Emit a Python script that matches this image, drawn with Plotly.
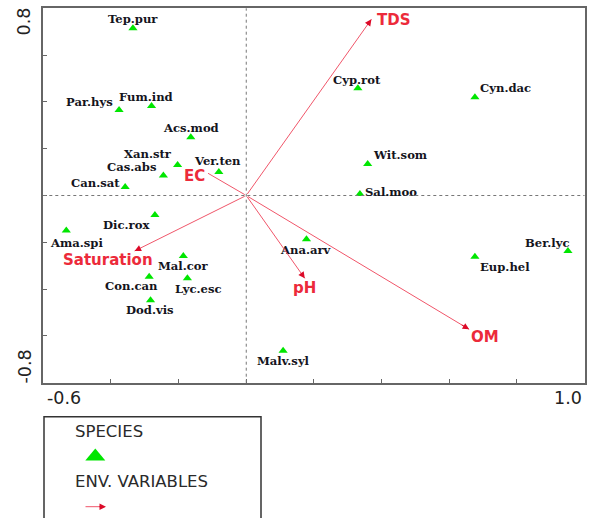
import plotly.graph_objects as go

W, H = 591, 518

# ---- species scores (axis 1, axis 2) ----
species = ["Tep.pur", "Par.hys", "Fum.ind", "Acs.mod", "Xan.str", "Cas.abs",
           "Ver.ten", "Can.sat", "Cyp.rot", "Cyn.dac", "Wit.som", "Sal.moo",
           "Dic.rox", "Ama.spi", "Mal.cor", "Con.can", "Lyc.esc", "Dod.vis",
           "Malv.syl", "Ana.arv", "Eup.hel", "Ber.lyc"]
sp_x = [-0.335, -0.376, -0.280, -0.164, -0.203, -0.245,
        -0.081, -0.358, 0.330, 0.676, 0.359, 0.336,
        -0.270, -0.532, -0.186, -0.287, -0.174, -0.283,
        0.109, 0.178, 0.676, 0.951]
sp_y = [0.715, 0.365, 0.382, 0.249, 0.130, 0.086,
        0.100, 0.036, 0.458, 0.420, 0.135, 0.006,
        -0.083, -0.150, -0.259, -0.347, -0.354, -0.448,
        -0.663, -0.187, -0.262, -0.237]
# label offsets in pixels (dx right, dy down)
sp_dx = [0, -30, -6, 0, -30, -31, -1, -30, -1, 31, 32, 31,
         -29, 10, 0, -18, 11, -1, 0, 0, 30, -21]
sp_dy = [-9, -8, -9, -9, -11, -8, -11, -4, -8, -9, -9, -2,
         10, 12, 10, 9, 11, 10, 10, 11, 10, -8]

# ---- environmental variable vectors ----
env = ["TDS", "EC", "Saturation", "pH", "OM"]
env_x = [0.370, -0.113, -0.330, 0.173, 0.659]
env_y = [0.753, 0.095, -0.237, -0.354, -0.572]
env_dx = [23, -14, -27, 0, 16]
env_dy = [1, 3, 9, 10, 8]

x_range = [-0.6, 1.0]
y_range = [-0.8, 0.8]
x_ticklabels = ["-0.6", "1.0"]
y_ticklabels = ["0.8", "-0.8"]

GREEN = "#00e600"
RED = "#ec2a3a"
LINE_RED = "#f0566a"
HEAD_RED = "#dc0a28"
TEXT = "#141420"
AXIS = "#666666"

# plot area in pixels
L, R, T, B = 43.3, 584.5, 8.3, 382.7


def px(xp):
    return xp / W


def py(yp):
    return 1 - yp / H


fig = go.Figure()

fig.add_trace(go.Scatter(
    x=sp_x, y=sp_y, mode="markers",
    marker=dict(symbol="triangle-up", size=8, color=GREEN, line=dict(width=0)),
    hoverinfo="text", text=species, showlegend=False,
))

annotations = []
for name, x, y, dx, dy in zip(species, sp_x, sp_y, sp_dx, sp_dy):
    annotations.append(dict(
        x=x, y=y, xref="x", yref="y", text=f"<b>{name}</b>", showarrow=False,
        xshift=dx, yshift=-dy, xanchor="center", yanchor="middle",
        font=dict(family="DejaVu Serif", size=11.6, color=TEXT),
    ))

for name, x, y, dx, dy in zip(env, env_x, env_y, env_dx, env_dy):
    # vector shaft from the origin
    annotations.append(dict(
        x=x, y=y, xref="x", yref="y", ax=0, ay=0, axref="x", ayref="y",
        text="", showarrow=True, arrowhead=0, arrowwidth=1,
        arrowcolor=LINE_RED, standoff=0,
    ))
    # darker arrowhead at the tip
    annotations.append(dict(
        x=x, y=y, xref="x", yref="y", ax=0.96 * x, ay=0.96 * y, axref="x", ayref="y",
        text="", showarrow=True, arrowhead=2, arrowsize=1.3, arrowwidth=1,
        arrowcolor=HEAD_RED, standoff=0,
    ))
    annotations.append(dict(
        x=x, y=y, xref="x", yref="y", text=f"<b>{name}</b>", showarrow=False,
        xshift=dx, yshift=-dy, xanchor="center", yanchor="middle",
        font=dict(family="DejaVu Sans", size=15, color=RED),
    ))

# tick labels at the axis ends
tick_font = dict(family="DejaVu Sans", size=17.5, color="#222222")
annotations.append(dict(x=px(45), y=py(397.5), xref="paper", yref="paper",
                        text=x_ticklabels[0], showarrow=False, xanchor="left",
                        yanchor="middle", font=tick_font))
annotations.append(dict(x=px(584), y=py(397.5), xref="paper", yref="paper",
                        text=x_ticklabels[1], showarrow=False, xanchor="right",
                        yanchor="middle", font=tick_font))
annotations.append(dict(x=px(24), y=py(21.5), xref="paper", yref="paper",
                        text=y_ticklabels[0], showarrow=False, textangle=-90,
                        xanchor="center", yanchor="middle", font=tick_font))
annotations.append(dict(x=px(24), y=py(366.5), xref="paper", yref="paper",
                        text=y_ticklabels[1], showarrow=False, textangle=-90,
                        xanchor="center", yanchor="middle", font=tick_font))

# legend box contents
legend_font = dict(family="DejaVu Sans", size=16.5, color="#2a2a2a")
annotations.append(dict(x=px(72.7), y=py(431.7), xref="paper", yref="paper",
                        text="SPECIES", showarrow=False, xanchor="left",
                        yanchor="middle", font=legend_font))
annotations.append(dict(x=px(72.7), y=py(481), xref="paper", yref="paper",
                        text="ENV. VARIABLES", showarrow=False, xanchor="left",
                        yanchor="middle", font=legend_font))
annotations.append(dict(x=px(100), y=py(506.7), xref="paper", yref="paper",
                        ax=-16, ay=0, text="", showarrow=True, arrowhead=0,
                        arrowwidth=1, arrowcolor=LINE_RED, standoff=0))
annotations.append(dict(x=px(106), y=py(506.7), xref="paper", yref="paper",
                        ax=-8, ay=0, text="", showarrow=True, arrowhead=2,
                        arrowsize=1.3, arrowwidth=1, arrowcolor=HEAD_RED, standoff=0))

shapes = [
    # dotted reference lines through the origin
    dict(type="line", xref="x", yref="paper", x0=0, x1=0, y0=py(B), y1=py(T),
         line=dict(color="#777777", width=1, dash="dot")),
    dict(type="line", xref="paper", yref="y", x0=px(L), x1=px(R), y0=0, y1=0,
         line=dict(color="#777777", width=1, dash="dot")),
    # legend frame (runs off the bottom edge)
    dict(type="rect", xref="paper", yref="paper", x0=px(44), x1=px(261),
         y0=py(530), y1=py(416.7), line=dict(color="#333333", width=1.5)),
    # legend triangle symbol
    dict(type="path", xref="paper", yref="paper",
         path=f"M {px(85.3)} {py(460.5)} L {px(105.3)} {py(460.5)} L {px(95.3)} {py(448.5)} Z",
         fillcolor=GREEN, line=dict(width=0)),
]

fig.update_layout(
    width=W, height=H,
    margin=dict(l=0, r=0, t=0, b=0),
    paper_bgcolor="white", plot_bgcolor="white",
    showlegend=False,
    xaxis=dict(domain=[px(L), px(R)], range=x_range, dtick=0.2, tick0=-0.6,
               showgrid=False, zeroline=False, showticklabels=False,
               ticks="inside", ticklen=4, tickcolor=AXIS,
               showline=True, linecolor=AXIS, linewidth=1.5, mirror=True),
    yaxis=dict(domain=[py(B), py(T)], range=y_range, dtick=0.2, tick0=-0.8,
               showgrid=False, zeroline=False, showticklabels=False,
               ticks="inside", ticklen=4, tickcolor=AXIS,
               showline=True, linecolor=AXIS, linewidth=1.5, mirror=True),
    annotations=annotations,
    shapes=shapes,
)

fig.write_html("out.html")
